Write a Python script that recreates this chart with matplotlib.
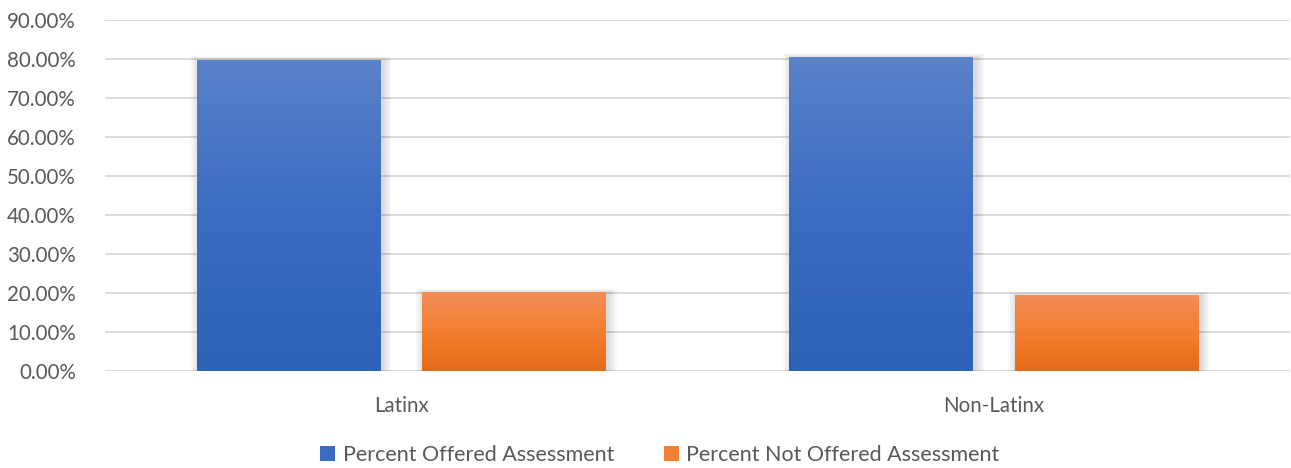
import numpy as np
import matplotlib.pyplot as plt
from matplotlib.patches import Rectangle
from matplotlib.colors import LinearSegmentedColormap
from matplotlib.ticker import FuncFormatter

plt.rcParams['font.family'] = ['Lato', 'DejaVu Sans']

groups = ['Latinx', 'Non-Latinx']
offered = [0.798, 0.805]
not_offered = [0.202, 0.195]
series_names = ['Percent Offered Assessment', 'Percent Not Offered Assessment']

text_color = '#595959'
grid_color = '#d9d9d9'

# vertical gradients, top colour first
blue_cmap = LinearSegmentedColormap.from_list('blue', ['#2d62b8', '#3a6cc2', '#5b81c9'])
orange_cmap = LinearSegmentedColormap.from_list('orange', ['#e36b18', '#f47f2f', '#f08d58'])

fig = plt.figure(figsize=(12.91, 4.68), dpi=100)
ax = fig.add_axes([0.0813, 0.207, 0.918, 0.750])

x = np.arange(len(groups))
width = 0.31
offset = 0.19


def gradient_bar(ax, xc, h, cmap):
    left = xc - width / 2
    # soft shadow around the bar
    for k in range(6):
        pad = 0.002 + k * 0.0025
        ax.add_patch(Rectangle((left - pad + 0.004, 0), width + 2 * pad, h + pad * 0.6,
                               facecolor='black', alpha=0.022, edgecolor='none', zorder=2))
    rect = Rectangle((left, 0), width, h, facecolor='none', edgecolor='none', zorder=3)
    ax.add_patch(rect)
    grad = np.linspace(0, 1, 256).reshape(-1, 1)
    im = ax.imshow(grad, cmap=cmap, origin='lower', aspect='auto',
                   extent=(left, left + width, 0, h), zorder=3)
    im.set_clip_path(rect)


for i in range(len(groups)):
    gradient_bar(ax, x[i] - offset, offered[i], blue_cmap)
    gradient_bar(ax, x[i] + offset, not_offered[i], orange_cmap)

ax.set_xlim(-0.5, 1.5)
ax.set_ylim(0, 0.9)
ax.set_yticks(np.arange(0, 0.91, 0.1))
ax.yaxis.set_major_formatter(FuncFormatter(lambda v, p: '{:.2f}%'.format(v * 100)))
ax.set_xticks(x)
ax.set_xticklabels(groups)
ax.grid(axis='y', color=grid_color, linewidth=1.3, zorder=0)
ax.set_axisbelow(True)
for s in ax.spines.values():
    s.set_visible(False)
ax.tick_params(axis='both', length=0, labelsize=14.8, colors=text_color)
ax.tick_params(axis='y', pad=21)
ax.tick_params(axis='x', pad=18)

# legend
handles = [Rectangle((0, 0), 1, 1, facecolor='#3a6cc2'),
           Rectangle((0, 0), 1, 1, facecolor='#f47f2f')]
fig.legend(handles, series_names, loc='center', bbox_to_anchor=(0.511, 0.027), ncol=2,
           frameon=False, fontsize=15.5, labelcolor=text_color, handlelength=0.7,
           handleheight=0.7, handletextpad=0.35, columnspacing=2.3)

fig.savefig('out.png', dpi=100)
